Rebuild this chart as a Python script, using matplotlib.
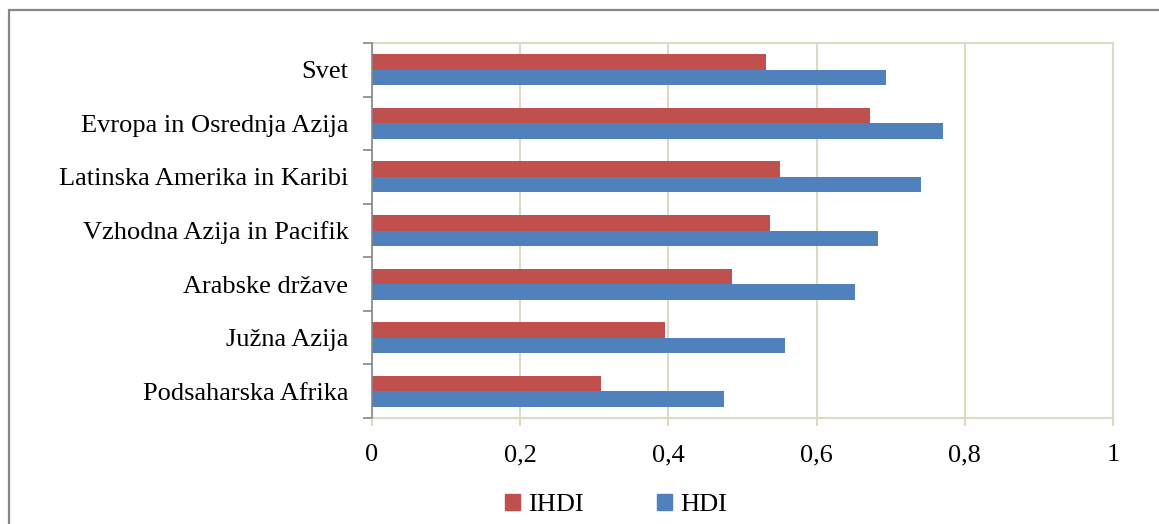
import matplotlib
matplotlib.use('Agg')
import matplotlib.pyplot as plt
from matplotlib.patches import Rectangle, Patch
from matplotlib.ticker import FuncFormatter, FixedLocator

regions = ['Svet', 'Evropa in Osrednja Azija', 'Latinska Amerika in Karibi',
           'Vzhodna Azija in Pacifik', 'Arabske države', 'Južna Azija',
           'Podsaharska Afrika']
ihdi = [0.532, 0.672, 0.550, 0.537, 0.486, 0.395, 0.309]
hdi = [0.694, 0.771, 0.741, 0.683, 0.652, 0.558, 0.475]

red = '#C0504D'
blue = '#4F81BD'
grid_col = '#DDD9C3'
axis_gray = '#868686'

plt.rcParams['font.family'] = ['Liberation Serif', 'DejaVu Serif']
fs = 19

fig = plt.figure(figsize=(11.59, 5.24), dpi=100)
W, H = 1159, 524
ax = fig.add_axes([372 / W, 1 - 418 / H, (1113 - 372) / W, (418 - 43) / H])

n = len(regions)
pos = [n - 1 - i for i in range(n)]
h = 0.29
ax.barh([p + h / 2 for p in pos], ihdi, height=h, color=red, label='IHDI', zorder=3)
ax.barh([p - h / 2 for p in pos], hdi, height=h, color=blue, label='HDI', zorder=3)

ax.set_xlim(0, 1)
ax.set_ylim(-0.5, n - 0.5)
ax.set_xticks([0, 0.2, 0.4, 0.6, 0.8, 1.0])
ax.xaxis.set_major_formatter(FuncFormatter(
    lambda v, _: '0' if v == 0 else ('1' if v == 1 else ('%.1f' % v).replace('.', ','))))
ax.grid(axis='x', color=grid_col, linewidth=1.5, zorder=0)

# category boundaries get tick marks, names sit between them
ax.yaxis.set_major_locator(FixedLocator([k - 0.5 for k in range(n + 1)]))
ax.yaxis.set_minor_locator(FixedLocator(pos))
ax.set_yticklabels([], minor=False)
ax.set_yticklabels(regions, minor=True)
ax.tick_params(axis='y', which='major', length=6.5, color=axis_gray, width=1.2)
ax.tick_params(axis='y', which='minor', length=0, pad=17, labelsize=fs)
ax.tick_params(axis='x', length=6, color=grid_col, width=1.5, pad=13, labelsize=fs)

for s in ['top', 'right', 'bottom']:
    ax.spines[s].set_color(grid_col)
    ax.spines[s].set_linewidth(1.5)
ax.spines['left'].set_color(axis_gray)
ax.spines['left'].set_linewidth(1.2)
ax.spines['left'].set_zorder(4)

handles = [Patch(color=red, label='IHDI'), Patch(color=blue, label='HDI')]
fig.legend(handles=handles, loc='center', bbox_to_anchor=(616 / W, 1 - 505 / H),
           ncol=2, frameon=False, fontsize=fs, handlelength=0.55, handleheight=0.55,
           handletextpad=0.3, columnspacing=2.8)

# outer chart border, running off the right and bottom edges
fig.patches.append(Rectangle((9 / W, -0.2), 1.2, 1.2 - 10 / H,
                             transform=fig.transFigure, fill=False,
                             edgecolor=axis_gray, linewidth=1.6))

fig.savefig('out.png', dpi=100)
